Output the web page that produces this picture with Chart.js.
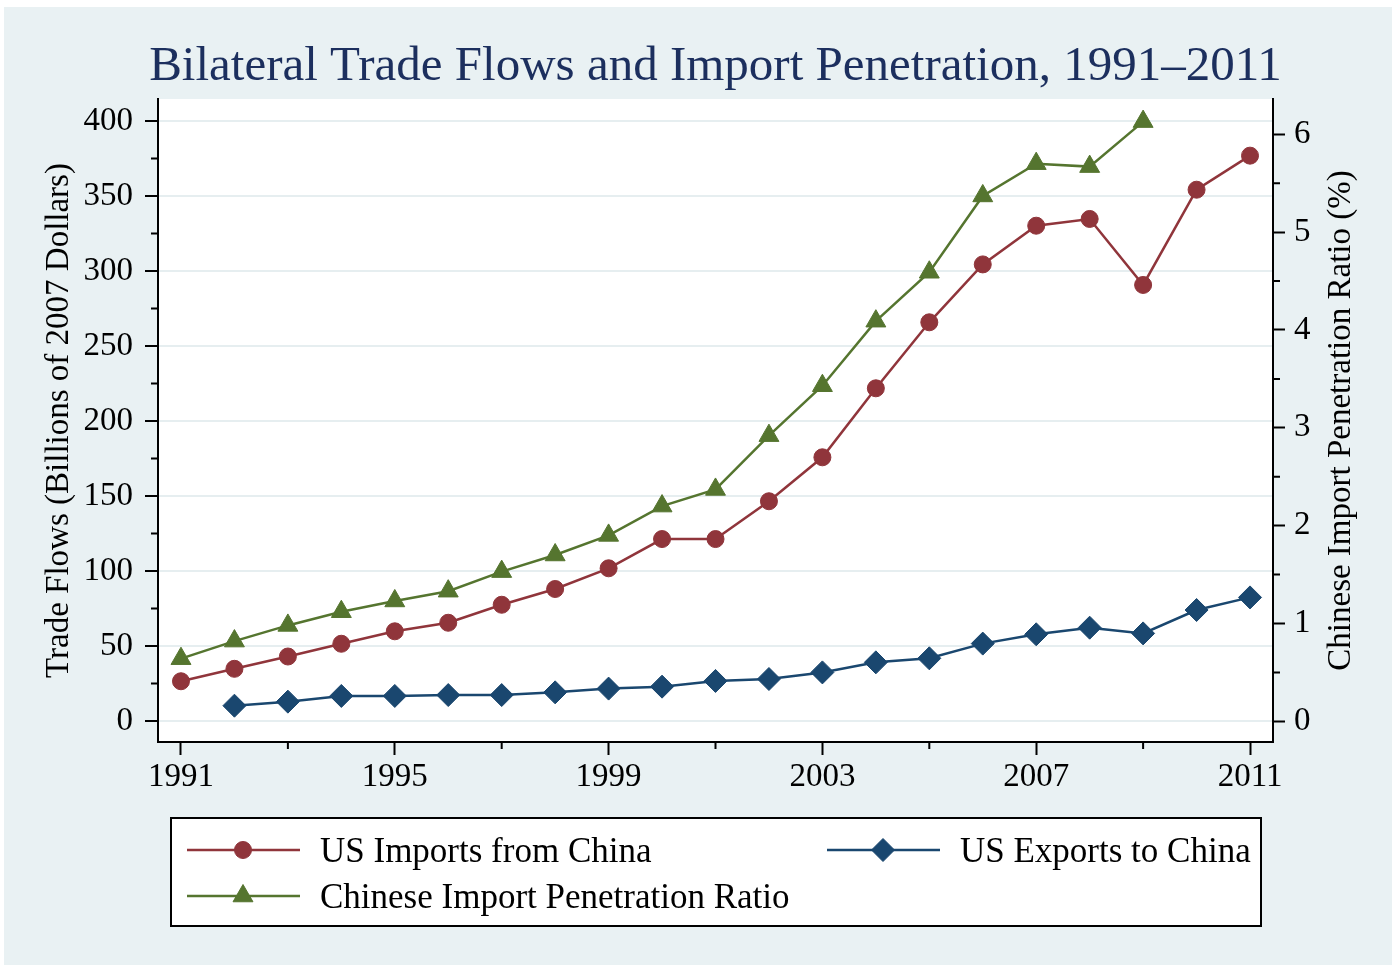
<!DOCTYPE html>
<html>
<head>
<meta charset="utf-8">
<title>Bilateral Trade Flows and Import Penetration</title>
<script src="https://cdn.jsdelivr.net/npm/chart.js@4.4.1/dist/chart.umd.min.js"></script>
<style>
  html, body { margin: 0; padding: 0; background: #fff; }
  #chart1 { display: block; }
</style>
</head>
<body>
<canvas id="chart1" width="1396" height="968"></canvas>
<script>
// ============== Data
const years = [1991, 1992, 1993, 1994, 1995, 1996, 1997, 1998, 1999, 2000, 2001,
  2002, 2003, 2004, 2005, 2006, 2007, 2008, 2009, 2010, 2011];

// billions of 2007 dollars
const importsChina = [26.5, 34.8, 43, 51.5, 59.8, 65.5, 77.5, 88, 101.8, 121.3, 121.3,
  146.5, 175.8, 221.8, 265.8, 304.4, 330.2, 334.7, 290.7, 354.2, 376.9];
const exportsChina = [null, 10.2, 12.9, 16.7, 16.7, 17.3, 17.3, 19.1, 21.6, 22.9, 26.7,
  28, 32.4, 39.1, 41.8, 51.6, 57.8, 62.2, 58.4, 74, 82.4];
// percent
const penetrationRatio = [0.64, 0.82, 0.98, 1.12, 1.23, 1.33, 1.53, 1.70, 1.90, 2.20, 2.37,
  2.92, 3.43, 4.09, 4.59, 5.37, 5.70, 5.67, 6.13, null, null];

const seriesNames = ['US Imports from China', 'US Exports to China', 'Chinese Import Penetration Ratio'];
const chartTitle = 'Bilateral Trade Flows and Import Penetration, 1991\u20132011';
const leftTitle = 'Trade Flows (Billions of 2007 Dollars)';
const rightTitle = 'Chinese Import Penetration Ratio (%)';

const xTicksMajor = [1991, 1995, 1999, 2003, 2007, 2011];
const xTicksMinor = [1993, 1997, 2001, 2005, 2009];
const leftTicksMajor = [0, 50, 100, 150, 200, 250, 300, 350, 400];
const leftTicksMinor = [25, 75, 125, 175, 225, 275, 325, 375];
const rightTicksMajor = [0, 1, 2, 3, 4, 5, 6];
const rightTicksMinor = [0.5, 1.5, 2.5, 3.5, 4.5, 5.5];

const FONT = "'Liberation Serif', 'Times New Roman', serif";

const toPoints = (values) => years.map((yr, i) => ({ x: yr, y: values[i] }));
const fixTicks = (list) => (axis) => { axis.ticks = list.map(v => ({ value: v })); };

// ============== Plugins
const panelPlugin = {
  id: 'panel',
  beforeDraw(chart) {
    const { ctx, chartArea: a } = chart;
    ctx.save();
    ctx.fillStyle = '#ffffff';
    ctx.fillRect(0, 0, chart.width, chart.height);
    ctx.fillStyle = '#e9f1f3';
    ctx.fillRect(4, 7, chart.width - 8, chart.height - 10);
    ctx.fillStyle = '#ffffff';
    ctx.fillRect(a.left, a.top, a.right - a.left, a.bottom - a.top);
    ctx.restore();
  }
};

const minorTicksPlugin = {
  id: 'minorTicks',
  afterDraw(chart) {
    const { ctx, scales, chartArea: a } = chart;
    ctx.save();
    ctx.strokeStyle = '#000';
    ctx.lineWidth = 2;
    ctx.beginPath();
    leftTicksMinor.forEach(v => {
      const y = scales.y.getPixelForValue(v);
      ctx.moveTo(a.left - 7, y); ctx.lineTo(a.left, y);
    });
    rightTicksMinor.forEach(v => {
      const y = scales.y1.getPixelForValue(v);
      ctx.moveTo(a.right, y); ctx.lineTo(a.right + 7, y);
    });
    xTicksMinor.forEach(v => {
      const x = scales.x.getPixelForValue(v);
      ctx.moveTo(x, a.bottom); ctx.lineTo(x, a.bottom + 7);
    });
    ctx.stroke();
    ctx.restore();
  }
};

// main title centred on the plot region, right axis title reading upwards
const titlesPlugin = {
  id: 'plotTitles',
  afterDraw(chart) {
    const { ctx, chartArea: a } = chart;
    ctx.save();
    ctx.font = `49px ${FONT}`;
    ctx.fillStyle = '#1c2f5e';
    ctx.textAlign = 'center';
    ctx.textBaseline = 'alphabetic';
    ctx.fillText(chartTitle, (a.left + a.right) / 2, 80);
    ctx.restore();

    ctx.save();
    ctx.translate(a.right + 68, (a.top + a.bottom) / 2);
    ctx.rotate(-Math.PI / 2);
    ctx.font = `33px ${FONT}`;
    ctx.fillStyle = '#000';
    ctx.textAlign = 'center';
    ctx.textBaseline = 'middle';
    ctx.fillText(rightTitle, 0, 0);
    ctx.restore();
  }
};

const legendPlugin = {
  id: 'boxLegend',
  afterDraw(chart) {
    const { ctx, chartArea: a } = chart;
    const box = { left: a.left + 13, right: a.right - 12, top: 818, bottom: 926 };
    const slots = [
      { x: box.left + 16, y: 850 },
      { x: box.left + 656, y: 850 },
      { x: box.left + 16, y: 896 }
    ];
    ctx.save();
    ctx.fillStyle = '#ffffff';
    ctx.fillRect(box.left, box.top, box.right - box.left, box.bottom - box.top);
    ctx.strokeStyle = '#000';
    ctx.lineWidth = 2;
    ctx.strokeRect(box.left, box.top, box.right - box.left, box.bottom - box.top);

    chart.data.datasets.forEach((d, i) => {
      const s = slots[i];
      ctx.strokeStyle = d.borderColor;
      ctx.lineWidth = d.borderWidth;
      ctx.beginPath();
      ctx.moveTo(s.x, s.y);
      ctx.lineTo(s.x + 113, s.y);
      ctx.stroke();

      ctx.fillStyle = d.backgroundColor;
      ctx.lineWidth = 1;
      Chart.helpers.drawPoint(ctx, {
        pointStyle: d.pointStyle, radius: d.pointRadius, rotation: 0, borderWidth: 1
      }, s.x + 56, s.y);

      ctx.fillStyle = '#000';
      ctx.font = `35px ${FONT}`;
      ctx.textAlign = 'left';
      ctx.textBaseline = 'alphabetic';
      ctx.fillText(d.label, s.x + 133, s.y + 12);
    });
    ctx.restore();
  }
};

// ============== Chart
document.addEventListener('DOMContentLoaded', () => {
  createChart1();
});

const createChart1 = () => {
  const ctx = document.getElementById('chart1').getContext('2d');

  const data = {
    datasets: [{
      label: seriesNames[0],
      data: toPoints(importsChina),
      yAxisID: 'y',
      borderColor: '#90353b',
      backgroundColor: '#90353b',
      borderWidth: 2.5,
      pointStyle: 'circle',
      pointRadius: 8.5,
      pointBorderWidth: 1
    }, {
      label: seriesNames[1],
      data: toPoints(exportsChina),
      yAxisID: 'y',
      borderColor: '#1a476f',
      backgroundColor: '#1a476f',
      borderWidth: 2.5,
      pointStyle: 'rectRot',
      pointRadius: 11.5,
      pointBorderWidth: 1
    }, {
      label: seriesNames[2],
      data: toPoints(penetrationRatio),
      yAxisID: 'y1',
      borderColor: '#55752f',
      backgroundColor: '#55752f',
      borderWidth: 2.5,
      pointStyle: 'triangle',
      pointRadius: 11.5,
      pointBorderWidth: 1
    }]
  };

  const tickFont = { family: FONT, size: 33 };

  const config = {
    type: 'line',
    data: data,
    options: {
      responsive: false,
      animation: false,
      layout: { padding: { top: 99, left: 0, right: 0, bottom: 0 } },
      plugins: {
        legend: { display: false },
        title: { display: false },
        tooltip: { enabled: false }
      },
      scales: {
        x: {
          type: 'linear',
          min: 1990.57,
          max: 2011.43,
          afterBuildTicks: fixTicks(xTicksMajor),
          afterFit: (axis) => { axis.height = 226; },
          grid: { drawOnChartArea: false, tickLength: 13, tickWidth: 2, tickColor: '#000' },
          border: { color: '#000', width: 2 },
          ticks: {
            callback: (v) => String(v),
            font: tickFont, color: '#000', padding: 3,
            maxRotation: 0, autoSkip: false
          }
        },
        y: {
          position: 'left',
          min: -14,
          max: 414.67,
          afterBuildTicks: fixTicks(leftTicksMajor),
          afterFit: (axis) => { axis.width = 158; },
          grid: { color: '#e6eef0', lineWidth: 2, tickLength: 13, tickWidth: 2, tickColor: '#000' },
          border: { color: '#000', width: 2 },
          ticks: { callback: (v) => String(v), font: tickFont, color: '#000', padding: 12 },
          title: {
            display: true, text: leftTitle, color: '#000',
            font: { family: FONT, size: 33 }, padding: { top: 40, bottom: 0 }
          }
        },
        y1: {
          position: 'right',
          min: -0.2116,
          max: 6.361,
          afterBuildTicks: fixTicks(rightTicksMajor),
          afterFit: (axis) => { axis.width = 123; },
          grid: { drawOnChartArea: false, tickLength: 12, tickWidth: 2, tickColor: '#000' },
          border: { color: '#000', width: 2 },
          ticks: { callback: (v) => String(v), font: tickFont, color: '#000', padding: 9 }
        }
      }
    },
    plugins: [panelPlugin, minorTicksPlugin, titlesPlugin, legendPlugin]
  };

  const newChart = new Chart(ctx, config);
};
</script>
</body>
</html>
